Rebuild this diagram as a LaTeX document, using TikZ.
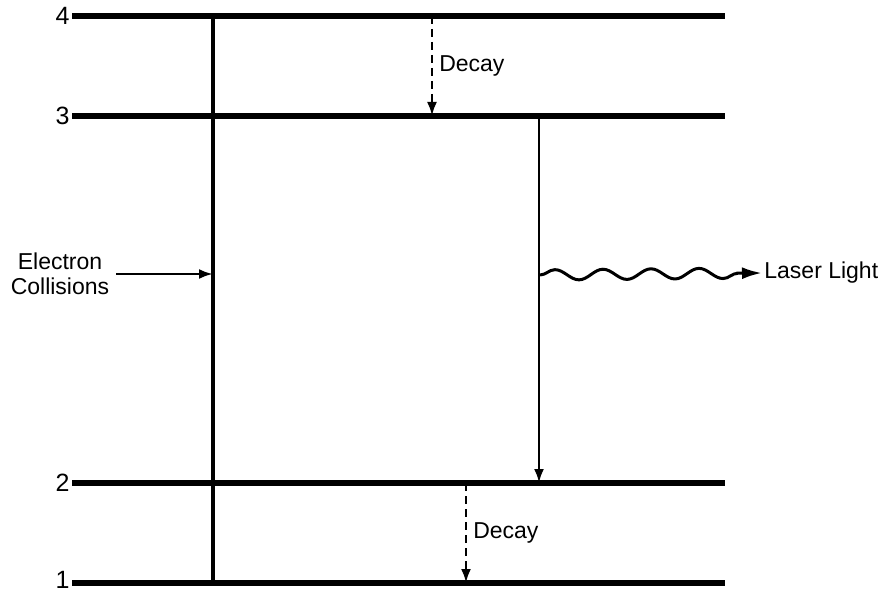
\documentclass[tikz,border=0pt]{standalone}
\usepackage{fontspec}
\setmainfont{Liberation Sans}
\usetikzlibrary{arrows.meta, positioning, decorations.pathmorphing}

\begin{document}
\begin{tikzpicture}[
        x=0.5pt, y=-0.5pt,
        font=\fontsize{11.5}{12.5}\selectfont,
        every node/.style = {align=center},
        level/.style = {line width=2.6pt},
        pump/.style  = {line width=1.7pt},
        arrow/.style = {-{Latex[length=7pt, width=5pt]}, line width=1.3pt},
        decay/.style = {-{Latex[length=7pt, width=5pt]}, line width=1.3pt,
                        dash pattern=on 4pt off 2.5pt},
        wave/.style  = {-{Latex[length=10pt, width=6pt]}, line width=1.5pt,
                        decorate, decoration={snake, amplitude=2.6pt,
                        segment length=24pt, post length=11pt}}
    ]
    \useasboundingbox (0,0) rectangle (895,593);

    % --- Energy levels ---
    \foreach \n/\y/\ly in {4/16/16, 3/116/116, 2/483/483, 1/583/580} {
        \node[anchor=east, inner sep=1pt, font=\fontsize{12.5}{13}\selectfont]
            (n\n) at (72,\ly) {\n};
        \coordinate (e\n) at (725,\y);
        \draw[level] (n\n.east |- e\n) -- (e\n);
    }

    % --- Pumping by electron collisions ---
    \coordinate (p4) at (213,16);
    \coordinate (p1) at (213,583);
    \coordinate (hit) at (213,274);
    \draw[pump] (p4) -- (p1);
    \node (coll) at (60,274) {Electron\\Collisions};
    \draw[arrow] (coll.east) -- (hit);

    % --- Decay 4 -> 3 ---
    \coordinate (d4) at (432,16);
    \coordinate (d3) at (432,116);
    \draw[decay] (d4) -- node[right, inner sep=3pt] {Decay} (d3);

    % --- Laser transition 3 -> 2 ---
    \coordinate (t3) at (539,116);
    \coordinate (t2) at (539,483);
    \draw[arrow] (t3) -- (t2);
    \coordinate (w0) at (540,275);
    \node[anchor=west, inner sep=1pt] (laser) at (762,273) {Laser Light};
    \draw[wave] (w0) -- (laser.west);

    % --- Decay 2 -> 1 ---
    \coordinate (d2) at (466,483);
    \coordinate (d1) at (466,583);
    \draw[decay] (d2) -- node[right, inner sep=3pt] {Decay} (d1);

\end{tikzpicture}
\end{document}
